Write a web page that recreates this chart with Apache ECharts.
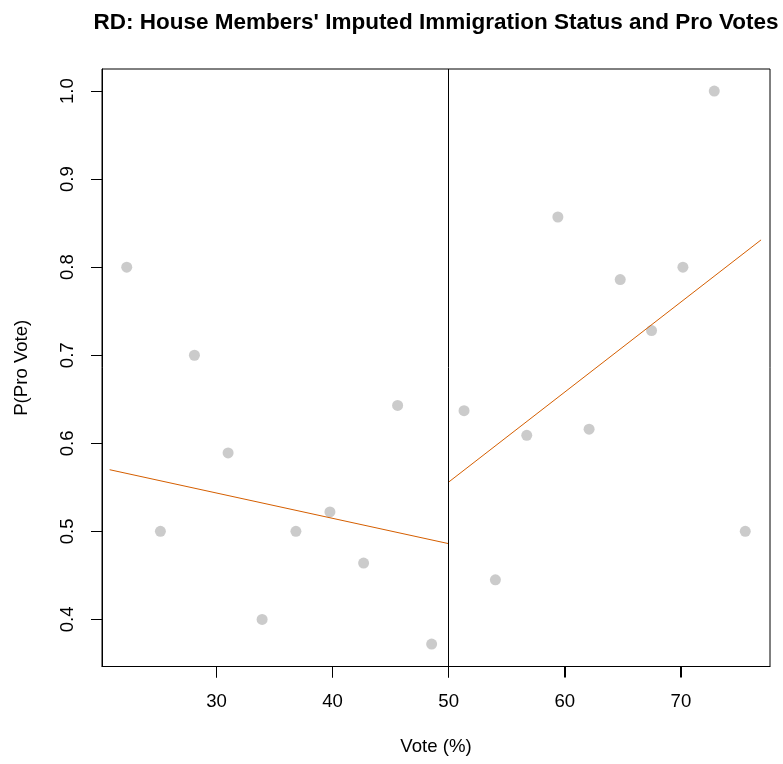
<!DOCTYPE html>
<html>
<head>
<meta charset="utf-8">
<title>RD: House Members' Imputed Immigration Status and Pro Votes</title>
<script src="https://cdn.jsdelivr.net/npm/echarts@6/dist/echarts.min.js"></script>
<style>
html, body { margin: 0; padding: 0; background: #fff; }
#main { width: 783px; height: 764px; }
</style>
</head>
<body>
<div id="main"></div>
<script>
// binned vote share (%) and share of pro votes in each bin
var voteBins = [22.27, 25.17, 28.10, 31.00, 33.93, 36.84, 39.77, 42.67, 45.60, 48.53,
                51.32, 54.02, 56.72, 59.40, 62.09, 64.77, 67.47, 70.17, 72.87, 75.54];
var proShare = [0.800, 0.500, 0.700, 0.589, 0.400, 0.500, 0.522, 0.464, 0.643, 0.372,
                0.637, 0.445, 0.609, 0.857, 0.616, 0.786, 0.728, 0.800, 1.000, 0.500];

// fitted lines either side of the cutoff
var cutoff = 50;
var fitLeftX = [20.8, 50];
var fitLeftY = [0.570, 0.486];
var fitRightX = [50, 76.9];
var fitRightY = [0.556, 0.831];

// axes
var xTicks = [30, 40, 50, 60, 70];
var yTicks = [0.4, 0.5, 0.6, 0.7, 0.8, 0.9, 1.0];
var xRange = [20.14, 77.67];
var yRange = [0.3465, 1.0251];

var font = 'Liberation Sans, Arial, Helvetica, sans-serif';
var tickLen = 11;

function zip(a, b) {
	var out = [];
	for (var i = 0; i < a.length; i++) out.push([a[i], b[i]]);
	return out;
}

function crisp(v) {
	return Math.round(v - 0.5) + 0.5;
}

// R style outward ticks, placed through the cartesian scales
function xTickItem(params, api) {
	var p = api.coord([api.value(0), api.value(1)]);
	var x = crisp(p[0]);
	return {
		type: 'line',
		shape: { x1: x, y1: p[1], x2: x, y2: p[1] + tickLen },
		style: { stroke: '#000', lineWidth: 1 }
	};
}

function yTickItem(params, api) {
	var p = api.coord([api.value(0), api.value(1)]);
	var y = crisp(p[1]);
	return {
		type: 'line',
		shape: { x1: p[0], y1: y, x2: p[0] - tickLen, y2: y },
		style: { stroke: '#000', lineWidth: 1 }
	};
}

var chart = echarts.init(document.getElementById('main'), null, { renderer: 'canvas' });

var option = {
	animation: false,
	backgroundColor: '#ffffff',
	title: {
		text: "RD: House Members' Imputed Immigration Status and Pro Votes",
		left: 436,
		top: 11,
		textAlign: 'center',
		padding: 0,
		textStyle: { fontFamily: font, fontSize: 22.5, fontWeight: 'bold', color: '#000' }
	},
	grid: {
		left: 102,
		right: 13,
		top: 69,
		bottom: 97.5,
		show: true,
		borderColor: '#000',
		borderWidth: 1
	},
	xAxis: {
		type: 'value',
		min: xRange[0],
		max: xRange[1],
		name: 'Vote (%)',
		nameLocation: 'middle',
		nameGap: 71,
		nameTextStyle: { fontFamily: font, fontSize: 18.6, color: '#000' },
		axisLine: { show: true, onZero: false, lineStyle: { color: '#000', width: 1 } },
		splitLine: { show: false },
		axisTick: {
			show: true,
			length: tickLen,
			customValues: xTicks,
			lineStyle: { color: '#000', width: 1 }
		},
		axisLabel: {
			margin: 26,
			customValues: xTicks,
			fontFamily: font,
			fontSize: 18.6,
			color: '#000'
		}
	},
	yAxis: {
		type: 'value',
		min: yRange[0],
		max: yRange[1],
		name: 'P(Pro Vote)',
		nameLocation: 'middle',
		nameGap: 71,
		nameRotate: 90,
		nameTextStyle: { fontFamily: font, fontSize: 18.6, color: '#000' },
		axisLine: { show: true, onZero: false, lineStyle: { color: '#000', width: 1 } },
		splitLine: { show: false },
		axisTick: {
			show: true,
			length: tickLen,
			customValues: yTicks,
			lineStyle: { color: '#000', width: 1 }
		},
		axisLabel: {
			rotate: 90,
			margin: 25,
			customValues: yTicks,
			fontFamily: font,
			fontSize: 18.6,
			color: '#000',
			formatter: function (v) { return v.toFixed(1); }
		}
	},
	series: [
		{
			type: 'scatter',
			data: zip(voteBins, proShare),
			symbol: 'circle',
			symbolSize: 11,
			itemStyle: { color: '#bebebe' },
			z: 3,
			markLine: {
				silent: true,
				symbol: ['none', 'none'],
				label: { show: false },
				lineStyle: { color: '#000', width: 1, type: 'solid' },
				data: [{ xAxis: cutoff }]
			}
		},
		{
			type: 'line',
			data: zip(fitLeftX, fitLeftY),
			showSymbol: false,
			symbol: 'none',
			lineStyle: { color: '#d55e00', width: 1 },
			z: 4
		},
		{
			type: 'line',
			data: zip(fitRightX, fitRightY),
			showSymbol: false,
			symbol: 'none',
			lineStyle: { color: '#d55e00', width: 1 },
			z: 4
		},
		{
			type: 'custom',
			silent: true,
			clip: false,
			renderItem: xTickItem,
			data: xTicks.map(function (v) { return [v, yRange[0]]; }),
			z: 5
		},
		{
			type: 'custom',
			silent: true,
			clip: false,
			renderItem: yTickItem,
			data: yTicks.map(function (v) { return [xRange[0], v]; }),
			z: 5
		}
	]
};

chart.setOption(option);
</script>
</body>
</html>
